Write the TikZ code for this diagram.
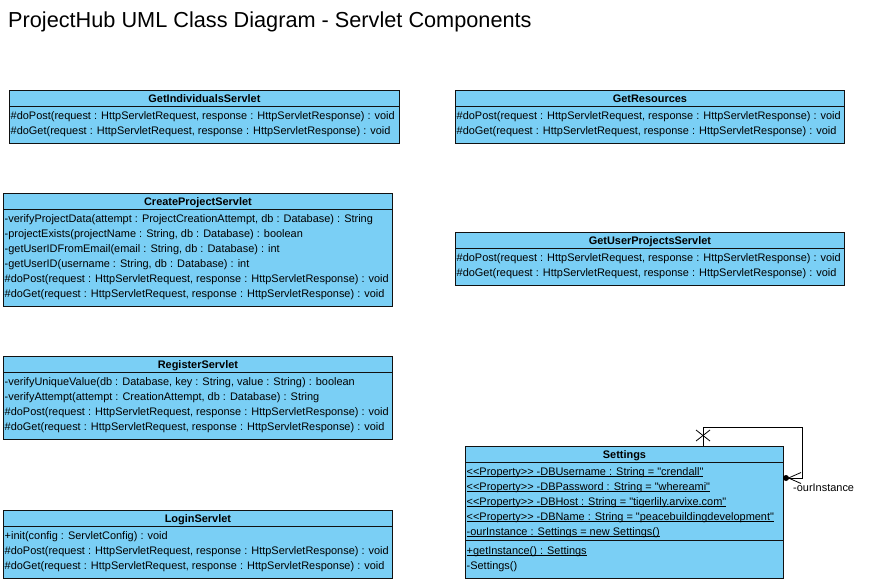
\documentclass[tikz,border=0pt]{standalone}
\usepackage{fontspec}
\newfontfamily\umlfont{Liberation Sans}
\definecolor{classfill}{HTML}{7ACFF5}
\definecolor{classline}{HTML}{111111}
\newcommand\myul[1]{\setbox0\hbox{#1}\rlap{\rule[-1.8pt]{\wd0}{0.8pt}}\box0}
\newcommand\umlclass[6]{%
  \node[classbox, minimum width=#4pt, minimum height=#5pt] (#1) at (#2,#3) {};
  \node[ctitle] (#1-title) at ([yshift=-12pt]#1.north) {#6};
  \draw[sepline] ([yshift=-16pt]#1.north west) -- ([yshift=-16pt]#1.north east);
}
\tikzset{
  classbox/.style={draw=classline, fill=classfill, line width=0.9pt, rectangle, inner sep=0pt, anchor=north west},
  sepline/.style={draw=classline, line width=0.9pt},
  ctitle/.style={font=\umlfont\fontsize{10.95}{13}\selectfont\bfseries, inner sep=0pt, anchor=base},
  crow/.style={font=\umlfont\fontsize{10.95}{13}\selectfont, inner sep=0pt, anchor=base west},
  assoc/.style={draw=black, line width=0.8pt},
  titletext/.style={font=\umlfont\fontsize{21.7}{26}\selectfont, inner sep=0pt, anchor=base west},
}
\begin{document}
\begin{tikzpicture}[x=1pt, y=-1pt]
\useasboundingbox (0,0) rectangle (869,582);
\fill[white] (0,0) rectangle (869,582);

\node[titletext] (title) at (8,27.5) {ProjectHub UML Class Diagram - Servlet Components};

% GetIndividualsServlet
\umlclass{gis}{9}{90}{390}{53}{GetIndividualsServlet}
\foreach \t [count=\i] in {{\#doPost(request : HttpServletRequest, response : HttpServletResponse) : void},
  {\#doGet(request : HttpServletRequest, response : HttpServletResponse) : void}}
  \node[crow] at ([xshift=1.5pt, yshift={-(29+15*(\i-1))*1pt}]gis.north west) {\t};

% GetResources
\umlclass{gres}{455}{90}{389}{53}{GetResources}
\foreach \t [count=\i] in {{\#doPost(request : HttpServletRequest, response : HttpServletResponse) : void},
  {\#doGet(request : HttpServletRequest, response : HttpServletResponse) : void}}
  \node[crow] at ([xshift=1.5pt, yshift={-(29+15*(\i-1))*1pt}]gres.north west) {\t};

% CreateProjectServlet
\umlclass{cps}{3}{193}{389}{113}{CreateProjectServlet}
\foreach \t [count=\i] in {{-verifyProjectData(attempt : ProjectCreationAttempt, db : Database) : String},
  {-projectExists(projectName : String, db : Database) : boolean},
  {-getUserIDFromEmail(email : String, db : Database) : int},
  {-getUserID(username : String, db : Database) : int},
  {\#doPost(request : HttpServletRequest, response : HttpServletResponse) : void},
  {\#doGet(request : HttpServletRequest, response : HttpServletResponse) : void}}
  \node[crow] at ([xshift=1.5pt, yshift={-(29+15*(\i-1))*1pt}]cps.north west) {\t};

% GetUserProjectsServlet
\umlclass{gups}{455}{232}{389}{53}{GetUserProjectsServlet}
\foreach \t [count=\i] in {{\#doPost(request : HttpServletRequest, response : HttpServletResponse) : void},
  {\#doGet(request : HttpServletRequest, response : HttpServletResponse) : void}}
  \node[crow] at ([xshift=1.5pt, yshift={-(29+15*(\i-1))*1pt}]gups.north west) {\t};

% RegisterServlet
\umlclass{reg}{3}{356}{389}{83}{RegisterServlet}
\foreach \t [count=\i] in {{-verifyUniqueValue(db : Database, key : String, value : String) : boolean},
  {-verifyAttempt(attempt : CreationAttempt, db : Database) : String},
  {\#doPost(request : HttpServletRequest, response : HttpServletResponse) : void},
  {\#doGet(request : HttpServletRequest, response : HttpServletResponse) : void}}
  \node[crow] at ([xshift=1.5pt, yshift={-(29+15*(\i-1))*1pt}]reg.north west) {\t};

% LoginServlet
\umlclass{login}{3}{510}{389}{68}{LoginServlet}
\foreach \t [count=\i] in {{+init(config : ServletConfig) : void},
  {\#doPost(request : HttpServletRequest, response : HttpServletResponse) : void},
  {\#doGet(request : HttpServletRequest, response : HttpServletResponse) : void}}
  \node[crow] at ([xshift=1.5pt, yshift={-(29+15*(\i-1))*1pt}]login.north west) {\t};

% Settings
\umlclass{set}{465}{446}{318}{132}{Settings}
\foreach \t [count=\i] in {{\myul{<<Property>> -DBUsername : String = "crendall"}},
  {\myul{<<Property>> -DBPassword : String = "whereami"}},
  {\myul{<<Property>> -DBHost : String = "tigerlily.arvixe.com"}},
  {\myul{<<Property>> -DBName : String = "peacebuildingdevelopment"}},
  {\myul{-ourInstance : Settings = new Settings()}}}
  \node[crow] at ([xshift=1.5pt, yshift={-(29+15*(\i-1))*1pt}]set.north west) {\t};
\draw[sepline] ([yshift=-94pt]set.north west) -- ([yshift=-94pt]set.north east);
\foreach \t [count=\i] in {{\myul{+getInstance() : Settings}},
  {-Settings()}}
  \node[crow] at ([xshift=1.5pt, yshift={-(108+15*(\i-1))*1pt}]set.north west) {\t};

% self association
\coordinate (sa) at (703,427);
\coordinate (sb) at (802,427);
\coordinate (sc) at (802,478);
\draw[assoc] (set.north -| sa) -- (sa) -- (sb) -- (sc) -- (set.east |- sc);
\coordinate (xm) at (703,435.5);
\draw[assoc] ([shift={(-7,-5.5)}]xm) -- ([shift={(7,5.5)}]xm);
\draw[assoc] ([shift={(-7,5.5)}]xm) -- ([shift={(7,-5.5)}]xm);
\coordinate (dot) at (786,478);
\fill[black] (dot) circle[radius=3pt];
\draw[assoc] ([shift={(15,-5.5)}]dot) -- ([shift={(2.5,0)}]dot) -- ([shift={(15,5.5)}]dot);
\node[crow] (lbl) at (793,491) {-ourInstance};
\end{tikzpicture}
\end{document}
